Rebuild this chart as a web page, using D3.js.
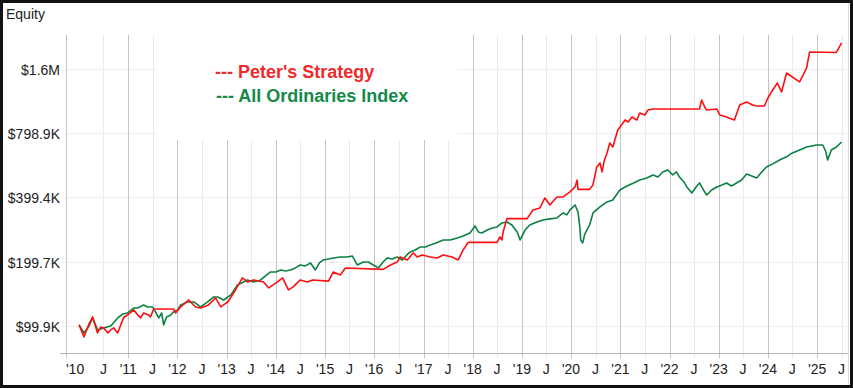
<!DOCTYPE html>
<html lang="en">
<head>
  <title>equity curve</title>
  <script type="text/javascript" src="https://cdn.jsdelivr.net/npm/d3@7"></script>
  <style>
    body {
      margin: 0px;
      background: white;
    }
    svg {
      display: block;
      font-family: "Liberation Sans", Arial, sans-serif;
    }
  </style>
</head>
<body>
  <script type="text/javascript">
    // Values in $K
    var stratDates = ["2010-01-01","2010-02-06","2010-03-12","2010-04-12","2010-05-18","2010-06-12","2010-07-03","2010-08-03","2010-08-24","2010-09-15",
      "2010-10-15","2010-11-06","2010-12-01","2010-12-28","2011-02-12","2011-03-12","2011-04-03","2011-04-25","2011-06-01","2011-06-15",
      "2011-07-09","2011-12-03","2011-12-18","2012-01-25","2012-03-25","2012-05-15","2012-06-21","2012-08-19","2012-10-10","2012-11-18",
      "2013-01-09","2013-03-07","2013-04-28","2013-06-04","2013-07-19","2013-10-01","2013-11-09","2014-01-13","2014-02-20","2014-04-04",
      "2014-05-10","2014-07-01","2014-08-22","2014-10-01","2015-01-27","2015-03-03","2015-04-24","2015-06-01","2016-03-07","2016-05-01",
      "2016-06-20","2016-07-12","2016-09-03","2016-10-16","2016-11-15","2016-12-22","2017-02-20","2017-04-12","2017-05-27","2017-08-01",
      "2017-09-15","2017-10-22","2017-11-28","2018-07-01","2018-07-22","2018-08-06","2018-08-15","2018-09-12","2019-02-09","2019-03-24",
      "2019-05-15","2019-06-21","2019-07-28","2019-09-18","2019-11-03","2019-12-24","2020-01-31","2020-02-15","2020-02-22","2020-05-18",
      "2020-06-12","2020-07-10","2020-08-03","2020-08-18","2020-09-05","2020-09-24","2020-10-15","2020-11-06","2020-12-13","2021-02-06",
      "2021-02-28","2021-03-28","2021-05-03","2021-05-25","2021-07-01","2021-07-25","2021-09-01","2022-08-12","2022-08-27","2022-09-19",
      "2022-10-04","2022-12-18","2023-01-09","2023-03-01","2023-03-22","2023-04-28","2023-06-06","2023-07-27","2023-09-10","2023-10-10",
      "2023-12-07","2024-01-01","2024-02-06","2024-03-12","2024-04-12","2024-05-19","2024-07-01","2024-08-24","2024-10-15","2024-11-06",
      "2025-05-24","2025-07-01"];
    var stratValues = [101.0,88.7,101.0,110.1,92.6,98.8,97.8,92.6,95.7,97.8,
      92.6,101.0,110.1,112.5,118.7,112.5,108.9,114.9,112.5,110.1,
      120.0,120.0,114.9,122.6,132.2,122.6,121.3,125.3,135.1,122.6,
      129.4,147.3,167.7,160.6,164.1,160.6,150.5,160.6,167.7,147.3,
      152.2,164.1,160.6,164.1,162.0,178.8,173.2,186.8,184.0,192.9,
      199.2,210.3,203.6,219.6,210.3,214.9,210.3,208.1,214.9,210.3,
      203.6,226.8,246.0,246.0,261.0,252.6,275.4,318.0,318.0,349.2,
      356.9,397.4,368.5,401.8,401.8,424.1,447.6,482.6,436.0,436.0,
      457.3,555.3,579.8,526.2,598.9,646.0,719.4,689.0,827.9,922.0,
      902.3,952.2,922.0,994.2,973.0,1027,1038,1038,1144,1061,
      1027,1038,973,952,940,922,1084,1120,1084,1072,
      1072,1169,1274,1374,1247,1531,1466,1390,1616,1920,
      1910,2116];

    var indexDates = ["2010-01-01","2010-02-06","2010-03-12","2010-04-12","2010-05-18","2010-07-03","2010-08-24","2010-10-15","2010-11-22","2010-12-28",
      "2011-02-12","2011-03-12","2011-04-25","2011-05-25","2011-07-01","2011-07-22","2011-08-15","2011-09-06","2011-09-21","2011-10-13",
      "2011-11-12","2011-12-03","2012-01-03","2012-01-25","2012-03-16","2012-05-01","2012-06-01","2012-06-21","2012-08-12","2012-09-27",
      "2012-10-25","2012-12-09","2013-02-01","2013-03-22","2013-05-06","2013-06-04","2013-07-19","2013-09-10","2013-10-16","2013-11-22",
      "2014-01-01","2014-02-06","2014-03-13","2014-04-19","2014-05-25","2014-07-01","2014-08-07","2014-09-15","2014-10-21","2014-11-20",
      "2014-12-19","2015-01-27","2015-03-03","2015-04-24","2015-06-15","2015-07-22","2015-08-28","2015-10-12","2015-11-18","2015-12-25",
      "2016-02-01","2016-03-07","2016-04-07","2016-05-13","2016-06-20","2016-07-27","2016-08-30","2016-09-24","2016-11-01","2016-12-09",
      "2017-01-15","2017-02-20","2017-04-04","2017-05-27","2017-07-18","2017-09-09","2017-10-22","2017-12-12","2018-01-18","2018-02-12",
      "2018-03-10","2018-04-18","2018-05-27","2018-07-01","2018-08-06","2018-09-12","2018-10-19","2018-11-27","2018-12-19","2019-01-25",
      "2019-03-01","2019-04-22","2019-06-06","2019-07-28","2019-09-18","2019-11-03","2019-12-01","2019-12-24","2020-01-31","2020-02-22",
      "2020-03-07","2020-03-13","2020-03-28","2020-04-10","2020-04-28","2020-05-18","2020-06-12","2020-08-03","2020-09-24","2020-11-06",
      "2020-12-28","2021-02-19","2021-04-10","2021-05-25","2021-07-16","2021-09-01","2021-10-07","2021-11-12","2021-12-19","2022-01-25",
      "2022-02-21","2022-03-16","2022-04-15","2022-05-10","2022-06-16","2022-07-22","2022-08-12","2022-09-10","2022-10-04","2022-11-10",
      "2022-12-18","2023-01-25","2023-03-01","2023-04-06","2023-05-13","2023-06-20","2023-07-27","2023-09-03","2023-10-10","2023-11-16",
      "2023-12-22","2024-02-06","2024-03-28","2024-05-19","2024-07-01","2024-08-24","2024-10-15","2024-11-22","2024-12-28","2025-02-12",
      "2025-03-06","2025-03-20","2025-04-16","2025-05-24","2025-07-01"];
    var indexValues = [101.0,92.6,98.8,108.9,95.7,97.8,99.9,108.9,113.7,114.9,
      121.3,121.3,125.3,122.6,122.6,116.2,108.9,114.9,101.0,110.1,
      112.5,116.2,118.7,125.3,129.4,129.4,125.3,122.6,129.4,136.6,
      136.6,132.2,139.6,155.5,160.6,164.1,160.6,164.1,171.4,178.8,
      178.8,182.8,180.8,182.8,186.8,192.9,190.9,197.1,182.8,197.1,
      203.6,205.8,208.1,210.3,210.3,212.6,192.9,199.2,199.2,192.9,
      186.8,199.2,208.1,205.8,210.3,203.6,214.9,222.0,226.8,234.3,
      234.3,239.4,244.6,252.6,252.6,258.2,263.9,272.4,293.8,275.4,
      272.4,281.4,287.6,290.7,303.5,306.8,297.0,275.4,252.6,281.4,
      297.0,306.8,313.5,317.0,320.4,338.1,331.0,349.2,368.5,341.7,
      287.6,252.6,244.6,266.6,281.4,297.0,338.1,360.7,380.6,388.9,
      433.3,452.4,467.3,482.6,493.3,509.4,498.5,526.2,537.7,509.4,
      526.2,498.5,475.0,447.6,419.5,452.4,467.3,433.3,410.5,433.3,
      447.6,457.3,467.3,452.4,467.3,482.6,514.9,504.0,493.3,526.2,
      555.3,574.0,598.9,619.6,646.0,667.0,689.0,696.5,704.0,704.0,
      655.8,598.9,667.0,689.0,727.2];

    var yTickValues = [99.86, 199.73, 399.45, 798.9, 1597.8];
    var yTickLabels = ["$99.9K", "$199.7K", "$399.4K", "$798.9K", "$1.6M"];
    var seriesNames = ["Peter's Strategy", "All Ordinaries Index"];

    var width = 853;
    var height = 388;
    var plotLeft = 66, plotRight = 848, plotTop = 35, plotBottom = 353;

    var parse = d3.timeParse("%Y-%m-%d");
    var strat = stratDates.map(function (d, i) { return {date: parse(d), value: stratValues[i]}; });
    var index = indexDates.map(function (d, i) { return {date: parse(d), value: indexValues[i]}; });

    var svg = d3.select("body").append("svg")
      .attr("width", width)
      .attr("height", height);

    svg.append("rect")
      .attr("x", 0).attr("y", 0)
      .attr("width", width).attr("height", height)
      .attr("fill", "white");

    var x = d3.scaleTime()
      .domain([parse("2009-09-26"), parse("2025-08-18")])
      .range([plotLeft, plotRight]);

    var y = d3.scaleLog().base(2)
      .domain([74.6, 2306])
      .range([plotBottom, plotTop]);

    // Half-year ticks: years get "'yy", mid-year gets "J"
    var xTicks = d3.timeMonth.every(6).range(parse("2010-01-01"), parse("2025-08-01"));
    var xLabel = function (d) {
      return d.getMonth() === 0 ? "'" + d3.timeFormat("%y")(d) : "J";
    };

    // horizontal grid
    svg.append("g")
      .selectAll("line")
      .data(yTickValues)
      .enter().append("line")
      .attr("x1", plotLeft).attr("x2", plotRight)
      .attr("y1", function (d) { return Math.round(y(d)) + 0.5; })
      .attr("y2", function (d) { return Math.round(y(d)) + 0.5; })
      .attr("stroke", "#efefef");

    // vertical grid
    svg.append("g")
      .selectAll("line")
      .data(xTicks.slice(1))
      .enter().append("line")
      .attr("x1", function (d) { return Math.round(x(d)) + 0.5; })
      .attr("x2", function (d) { return Math.round(x(d)) + 0.5; })
      .attr("y1", plotTop).attr("y2", plotBottom + 5)
      .attr("stroke", function (d) { return d.getMonth() === 0 ? "#c4c4c4" : "#ebebeb"; });

    // legend box hides grid behind the text
    svg.append("rect")
      .attr("x", 157).attr("y", plotTop)
      .attr("width", 300).attr("height", 105)
      .attr("fill", "white");

    // axes lines
    svg.append("line")
      .attr("x1", plotLeft + 0.5).attr("x2", plotLeft + 0.5)
      .attr("y1", plotTop).attr("y2", plotBottom + 5)
      .attr("stroke", "#c4c4c4");
    svg.append("line")
      .attr("x1", 60).attr("x2", plotRight)
      .attr("y1", plotBottom + 0.5).attr("y2", plotBottom + 0.5)
      .attr("stroke", "#b4b4b4");
    svg.append("line")
      .attr("x1", plotRight + 0.5).attr("x2", plotRight + 0.5)
      .attr("y1", 0).attr("y2", height)
      .attr("stroke", "#d8d8d8");

    // tick labels
    svg.append("g")
      .selectAll("text")
      .data(yTickValues)
      .enter().append("text")
      .attr("x", 60)
      .attr("y", function (d) { return y(d) + 6; })
      .attr("text-anchor", "end")
      .attr("font-size", 14)
      .attr("fill", "#222")
      .text(function (d, i) { return yTickLabels[i]; });

    svg.append("g")
      .selectAll("text")
      .data(xTicks)
      .enter().append("text")
      .attr("x", function (d) { return x(d); })
      .attr("dx", function (d, i) { return i === 0 ? -4 : 0; })
      .attr("y", 374)
      .attr("text-anchor", "middle")
      .attr("font-size", 14)
      .attr("fill", "#222")
      .text(xLabel);

    svg.append("text")
      .attr("x", 6).attr("y", 19)
      .attr("font-size", 14)
      .attr("fill", "#222")
      .text("Equity");

    // series
    var line = d3.line()
      .x(function (d) { return x(d.date); })
      .y(function (d) { return y(d.value); });

    svg.append("path")
      .datum(index)
      .attr("d", line)
      .attr("fill", "none")
      .attr("stroke", "#0b8043")
      .attr("stroke-width", 1.6)
      .attr("stroke-linejoin", "round");

    svg.append("path")
      .datum(strat)
      .attr("d", line)
      .attr("fill", "none")
      .attr("stroke", "#ff1010")
      .attr("stroke-width", 1.6)
      .attr("stroke-linejoin", "round");

    // legend
    svg.append("text")
      .attr("x", 215).attr("y", 78)
      .attr("font-size", 18)
      .attr("font-weight", "bold")
      .attr("fill", "#f02a2a")
      .text("--- " + seriesNames[0]);
    svg.append("text")
      .attr("x", 216).attr("y", 102)
      .attr("font-size", 18)
      .attr("font-weight", "bold")
      .attr("fill", "#138a4a")
      .text("--- " + seriesNames[1]);

    // frame
    svg.append("rect")
      .attr("x", 1.5).attr("y", 1.5)
      .attr("width", width - 3).attr("height", height - 3)
      .attr("fill", "none")
      .attr("stroke", "#111")
      .attr("stroke-width", 3);
  </script>
</body>
</html>
